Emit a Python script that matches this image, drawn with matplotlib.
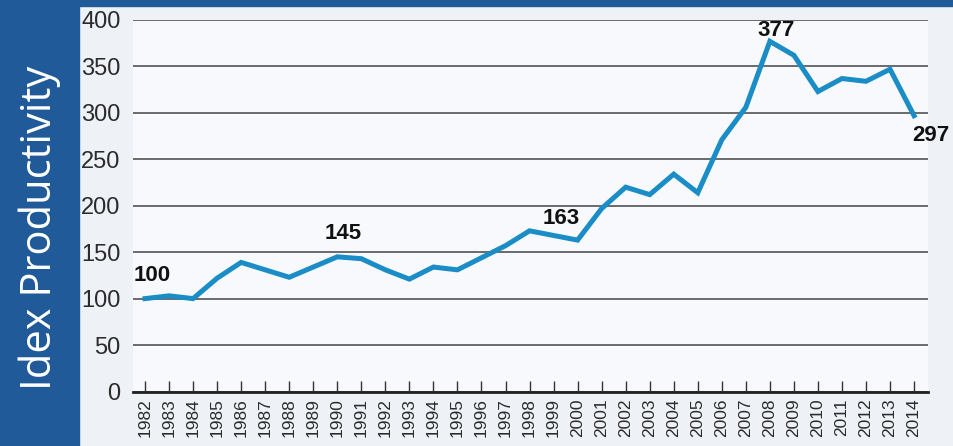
import matplotlib
matplotlib.use("Agg")
import matplotlib.pyplot as plt
from matplotlib.patches import Rectangle

# data
years = list(range(1982, 2015))
productivity = [100, 103, 100, 122, 139, 131, 123, 134, 145, 143, 131, 121, 134, 131,
                144, 157, 173, 168, 163, 197, 220, 212, 234, 214, 271, 306, 377, 362,
                323, 337, 334, 347, 297]
y_ticks = [0, 50, 100, 150, 200, 250, 300, 350, 400]

# labelled points: (text, x, y)
labels = [("100", 1982.3, 125), ("145", 1990.25, 170), ("163", 1999.3, 186),
          ("377", 2008.25, 389), ("297", 2014.7, 276)]

W, H = 954, 446
fig = plt.figure(figsize=(W / 100, H / 100), dpi=100)
fig.patch.set_facecolor("#eef2f7")

# blue frame (left strip + top band)
fig.patches.append(Rectangle((0, 0), 79 / W, 1, transform=fig.transFigure,
                             color="#215a98", zorder=0))
fig.patches.append(Rectangle((0, 1 - 6 / H), 1, 6 / H, transform=fig.transFigure,
                             color="#215a98", zorder=0))
fig.text(40 / W, 1 - 228 / H, "Idex Productivity", rotation=90, color="white",
         fontsize=30, family="Open Sans", ha="center", va="center")

ax = fig.add_axes([133 / W, (H - 391.5) / H, (928 - 133) / W, (391.5 - 20) / H])
ax.set_facecolor("#f7f9fc")

ax.plot(years, productivity, color="#1a8cc6", lw=3.6, solid_joinstyle="miter",
        zorder=3)

ax.set_xlim(1981.5, 2014.58)
ax.set_ylim(0, 400)
ax.set_yticks(y_ticks)
ax.set_yticklabels([str(v) for v in y_ticks], fontsize=17, color="#2b2b2b",
                   family="Liberation Sans")
ax.set_xticks(years)
ax.set_xticklabels([str(y) for y in years], rotation=90, fontsize=12.5,
                   color="#2b2b2b", family="Liberation Sans")

ax.grid(axis="y", color="#606060", lw=1.3)
ax.set_axisbelow(True)
for s in ["top", "right", "left"]:
    ax.spines[s].set_visible(False)
ax.spines["bottom"].set_linewidth(2)
ax.spines["bottom"].set_color("#222222")
ax.spines["bottom"].set_zorder(4)
ax.tick_params(axis="y", length=0, pad=9)
ax.tick_params(axis="x", direction="in", length=8, width=1, color="#333333", pad=5)

for txt, x, y in labels:
    ax.text(x, y, txt, fontsize=16, fontweight="bold", color="#111111",
            family="Liberation Sans", ha="center", va="center", clip_on=False)

fig.savefig("out.png", dpi=100, facecolor=fig.get_facecolor())
